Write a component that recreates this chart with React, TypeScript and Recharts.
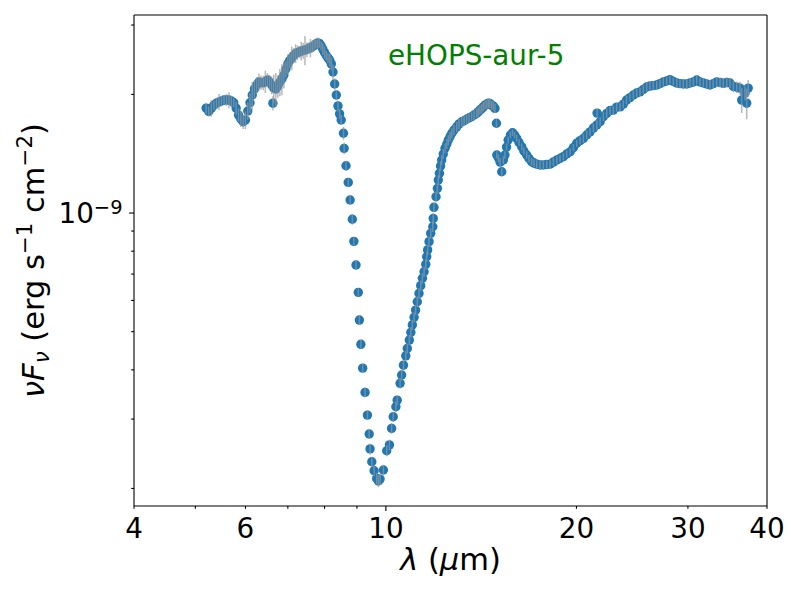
import React from 'react';
import { ScatterChart, Scatter, XAxis, YAxis, ErrorBar, Customized, ReferenceLine } from 'recharts';

const FONT = '"DejaVu Sans", Verdana, sans-serif';
const BLUE = '#1f77b4';

// ---- data (wavelength in micron, flux nuFnu in units of 1e-9 erg s^-1 cm^-2) ----
const sl2Wave = [5.20,5.25,5.30,5.35,5.40,5.45,5.50,5.55,5.60,5.65,
  5.70,5.75,5.80,5.85,5.90,5.95,6.00,6.05,6.10,6.15,
  6.20,6.25,6.30,6.35,6.40,6.45,6.50,6.55,6.60,
  6.63,
  6.65,6.70,6.75,6.80,6.85,6.90,6.95,7.00,7.05,7.10,
  7.15,7.20,7.25,7.30,7.35,7.40,7.45,7.50,7.55,7.60,
  7.65,7.70,7.75,7.80,7.85,7.90,7.95,8.00,8.05,8.10,
  8.15,8.20,8.25,8.30,8.35,8.40,8.45,8.50];
const sl2Flux = [1.846,1.81,1.846,1.879,1.90,1.915,1.925,1.935,1.937,1.935,
  1.925,1.905,1.846,1.773,1.732,1.705,1.722,1.815,1.905,1.993,
  2.065,2.113,2.150,2.144,2.14,2.157,2.176,2.150,2.113,
  1.90,
  2.076,2.065,2.10,2.150,2.19,2.240,2.32,2.39,2.44,2.475,
  2.51,2.54,2.555,2.562,2.578,2.585,2.593,2.60,2.62,2.623,
  2.645,2.66,2.686,2.70,2.695,2.655,2.607,2.555,2.51,2.475,
  2.445,2.39,2.28,2.125,1.993,1.87,1.785,1.722];
const sl2Err = [.06,.05,.09,.05,.06,.09,.06,.05,.07,.09,
  .06,.05,.07,.07,.08,.07,.09,.09,.11,.16,
  .11,.10,.11,.09,.09,.14,.09,.09,.11,
  .08,
  .17,.20,.14,.17,.20,.17,.11,.14,.11,.17,
  .11,.14,.11,.09,.14,.12,.22,.11,.09,.14,
  .09,.09,.07,.09,.07,.07,.09,.09,.07,.07,
  .09,.09,.10,.07,.06,.06,.05,.05];

const sl1Wave = [8.57,8.59,8.65,8.72,8.78,8.85,8.90,8.97,9.045,9.08,
  9.13,9.19,9.27,9.35,9.41,9.44,9.50,9.58,9.67,9.73,
  9.79,9.91,10.03,10.13,10.21,10.27,10.37,10.42,10.53,10.59,
  10.66,10.75,10.81,10.89,10.95,11.01,11.08,11.14,11.21,11.28,
  11.35,11.42,11.49,11.56,11.60,11.64,11.70,11.77,11.86,11.88,
  11.91,12.00,12.06,12.10,12.15,12.20,12.25,12.32,12.40,12.48,
  12.55,12.63,12.71,12.81,12.94,13.05,13.18,13.29,13.41,13.53,
  13.66,13.78,13.91,13.99,14.08,14.17,14.25,14.34,14.43,14.52,
  14.60,14.69,14.78,14.87,14.95];
const sl1Flux = [1.594,1.459,1.318,1.196,1.079,0.964,0.8475,0.738,0.629,0.535,
  0.4643,0.404,0.3506,0.307,0.275,0.252,0.2337,0.2218,0.2121,0.2089,
  0.2112,0.2227,0.2493,0.258,0.2841,0.304,0.3224,0.335,0.3697,0.388,
  0.411,0.434,0.4534,0.476,0.498,0.520,0.5436,0.567,0.5955,0.6253,
  0.654,0.683,0.7097,0.741,0.7746,0.806,0.846,0.888,0.923,0.969,
  1.034,1.10,1.155,1.213,1.261,1.316,1.363,1.412,1.46,1.497,
  1.532,1.563,1.594,1.624,1.655,1.683,1.705,1.715,1.73,1.742,
  1.757,1.773,1.79,1.806,1.825,1.84,1.86,1.879,1.89,1.90,
  1.897,1.879,1.868,1.843,1.69];
const sl1Err = [.06,.05,.04,.03,.03,.03,.02,.018,.015,.014,
  .012,.011,.01,.009,.008,.008,.007,.007,.007,.007,
  .007,.007,.008,.008,.009,.009,.01,.01,.011,.012,
  .012,.013,.013,.014,.015,.015,.016,.017,.018,.019,
  .02,.021,.022,.023,.024,.025,.026,.027,.028,.03,
  .03,.032,.034,.035,.036,.038,.04,.04,.042,.044,
  .045,.046,.047,.048,.05,.05,.05,.05,.05,.05,
  .05,.05,.05,.05,.05,.05,.05,.05,.05,.05,
  .05,.05,.05,.05,.04];

const llWave = [14.97,15.06,15.15,15.24,15.33,15.42,15.51,15.60,15.73,15.85,
  15.97,16.09,16.23,16.39,16.52,16.69,16.83,16.99,17.14,17.31,
  17.52,17.73,17.95,18.17,18.39,18.62,18.84,19.07,19.30,19.55,
  19.78,20.02,20.27,20.51,20.76,21.01,21.27,21.54,21.56,21.80,
  22.06,22.33,22.60,22.87,23.15,23.44,23.72,24.00,24.30,24.60,
  24.90,25.20,25.51,25.82,26.13,26.45,26.78,27.10,27.43,27.77,
  28.10,28.45,28.80,29.15,29.50,29.87,30.23,30.60,30.98,31.35,
  31.73,32.12,32.50,32.90,33.30,33.72,34.12,34.55,34.96,35.39,
  35.83,36.26,36.48,36.92,37.15,37.36];
const llFlux = [1.404,1.379,1.347,1.273,1.363,1.404,1.470,1.532,1.578,1.599,
  1.578,1.548,1.510,1.473,1.437,1.404,1.375,1.350,1.339,1.331,
  1.324,1.324,1.328,1.331,1.347,1.363,1.375,1.39,1.412,1.431,
  1.466,1.503,1.527,1.546,1.578,1.607,1.643,1.673,1.793,1.705,
  1.757,1.79,1.82,1.825,1.857,1.860,1.89,1.935,1.963,1.993,
  2.017,2.03,2.06,2.088,2.10,2.105,2.113,2.13,2.150,2.163,
  2.181,2.157,2.138,2.13,2.125,2.125,2.138,2.150,2.176,2.150,
  2.138,2.125,2.113,2.13,2.152,2.144,2.134,2.144,2.138,2.095,
  2.085,2.075,1.935,2.014,1.90,2.075];
const llErr = [.03,.03,.03,.03,.03,.03,.03,.03,.03,.03,
  .03,.03,.03,.03,.03,.03,.03,.03,.03,.03,
  .03,.03,.03,.03,.03,.03,.03,.03,.03,.03,
  .03,.03,.035,.04,.04,.04,.04,.045,.045,.045,
  .045,.05,.045,.045,.05,.045,.045,.05,.045,.05,
  .05,.05,.05,.055,.05,.05,.05,.05,.055,.05,
  .05,.05,.055,.05,.05,.055,.05,.05,.055,.05,
  .05,.055,.06,.055,.055,.06,.06,.065,.065,.07,
  .07,.08,.14,.08,.17,.1];

// ---- axes ----
const xDomain = [4, 40];
const xTicks = [4, 5, 6, 7, 8, 9, 10, 20, 30, 40];
const xTickLabels = [4, 6, 10, 20, 30, 40];
const xMajorTicks = [10];
const yDomain = [1.805e-10, 3.181e-9];
const yTicks = [2e-10, 3e-10, 4e-10, 5e-10, 6e-10, 7e-10, 8e-10, 9e-10, 1e-9, 2e-9, 3e-9];
const yMajorTicks = [1e-9];

const UNIT = 1e-9;
const build = (w: number[], f: number[], e: number[]) =>
  w.map((wl, i) => ({ w: wl, f: f[i] * UNIT, e: e[i] * UNIT }));
const points = [
  ...build(sl2Wave, sl2Flux, sl2Err),
  ...build(sl1Wave, sl1Flux, sl1Err),
  ...build(llWave, llFlux, llErr),
];

const TICK_FS = 27.8;
const LABEL_FS = 30.5;

const XTick = (props: any) => {
  const { x, y, payload } = props;
  const v = payload.value;
  const len = xMajorTicks.includes(v) ? 4.9 : 2.8;
  return (
    <g>
      <line x1={x} x2={x} y1={y} y2={y + len} stroke="#000" strokeWidth={1.1} />
      {xTickLabels.includes(v) && (
        <text x={x} y={y + 32} textAnchor="middle" fontSize={TICK_FS} fontFamily={FONT} fill="#000">
          {v}
        </text>
      )}
    </g>
  );
};

const isMajorY = (v: number) => yMajorTicks.some((m) => Math.abs(v - m) / m < 1e-6);

const YTick = (props: any) => {
  const { x, y, payload } = props;
  const v = payload.value;
  const major = isMajorY(v);
  const len = major ? 4.9 : 2.8;
  const exp = Math.round(Math.log10(v));
  return (
    <g>
      <line x1={x - len} x2={x} y1={y} y2={y} stroke="#000" strokeWidth={1.1} />
      {major && (
        <text x={x - 11.5} y={y + 10} textAnchor="end" fontSize={TICK_FS} fontFamily={FONT} fill="#000">
          <tspan>10</tspan>
          <tspan fontSize={TICK_FS * 0.7} dy={-9.5}>{'\u2212' + Math.abs(exp)}</tspan>
        </text>
      )}
    </g>
  );
};

const XLabel = () => (
  <text x={450.5} y={570} textAnchor="middle" fontSize={LABEL_FS} fontFamily={FONT} fill="#000">
    <tspan fontStyle="italic">λ</tspan>
    <tspan>{' ('}</tspan>
    <tspan fontStyle="italic">μ</tspan>
    <tspan>{'m)'}</tspan>
  </text>
);

const YLabel = () => {
  const cx = 44;
  const cy = 260.5;
  const sub = LABEL_FS * 0.7;
  return (
    <text
      x={cx}
      y={cy}
      transform={`rotate(-90 ${cx} ${cy})`}
      textAnchor="middle"
      fontSize={LABEL_FS}
      fontFamily={FONT}
      fill="#000"
    >
      <tspan fontStyle="italic">ν</tspan>
      <tspan fontStyle="italic">F</tspan>
      <tspan fontStyle="italic" fontSize={sub} dy={5}>ν</tspan>
      <tspan dy={-5}>{' (erg s'}</tspan>
      <tspan fontSize={sub} dy={-12}>{'\u22121'}</tspan>
      <tspan dy={12}>{' cm'}</tspan>
      <tspan fontSize={sub} dy={-12}>{'\u22122'}</tspan>
      <tspan dy={12}>{')'}</tspan>
    </text>
  );
};

const Title = () => (
  <text x={388} y={65} fontSize={27.8} fontFamily={FONT} fill="#008000">
    eHOPS-aur-5
  </text>
);

const Dot = (props: any) => {
  const { cx, cy } = props;
  if (cx == null || cy == null) return <g />;
  return <circle cx={cx} cy={cy} r={4.7} fill={BLUE} />;
};

const Empty = () => <g />;

export default function App() {
  return (
    <div style={{ position: 'absolute', left: 0, top: 0, width: 800, height: 600, background: '#fff' }}>
      <ScatterChart width={800} height={600} margin={{ top: 15, right: 33, bottom: 0, left: 0 }}>
        <XAxis
          dataKey="w"
          type="number"
          scale="log"
          domain={xDomain}
          allowDataOverflow
          ticks={xTicks}
          interval={0}
          height={94}
          tickSize={0}
          tickMargin={0}
          tickLine={false}
          tick={<XTick />}
          axisLine={{ stroke: '#000', strokeWidth: 1.1 }}
          label={<XLabel />}
        />
        <YAxis
          dataKey="f"
          type="number"
          scale="log"
          domain={yDomain}
          allowDataOverflow
          ticks={yTicks}
          interval={0}
          width={134}
          tickSize={0}
          tickMargin={0}
          tickLine={false}
          tick={<YTick />}
          axisLine={{ stroke: '#000', strokeWidth: 1.1 }}
          label={<YLabel />}
        />
        <Scatter data={points} dataKey="f" isAnimationActive={false} shape={<Dot />} />
        <Scatter data={points} dataKey="f" isAnimationActive={false} shape={<Empty />} zIndex={700}>
          <ErrorBar
            dataKey="e"
            direction="y"
            width={0}
            stroke="#999999"
            strokeWidth={1.5}
            strokeOpacity={0.7}
            isAnimationActive={false}
            zIndex={700}
          />
        </Scatter>
        <ReferenceLine y={yDomain[1]} stroke="#000" strokeWidth={1.1} ifOverflow="visible" />
        <ReferenceLine x={xDomain[1]} stroke="#000" strokeWidth={1.1} ifOverflow="visible" />
        <Customized component={<Title />} />
      </ScatterChart>
    </div>
  );
}
